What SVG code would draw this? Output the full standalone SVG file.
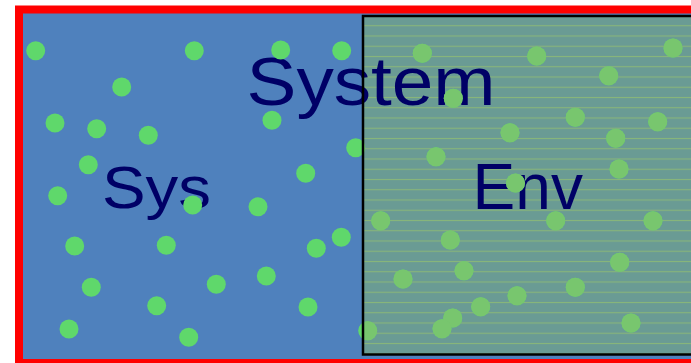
<svg xmlns="http://www.w3.org/2000/svg" xmlns:xlink="http://www.w3.org/1999/xlink" width="691" height="363" viewBox="0 0 691 363">
  <style>
    .label { font-family: "Liberation Sans", Arial, sans-serif; fill: #000066; }
    .frame { fill: #4F81BD; stroke: #FF0000; stroke-width: 8; }
    .env-fill { fill: url(#envLines); }
    .env-border { fill: none; stroke: #000000; stroke-width: 2.5; }
  </style>
  <defs>
    <!-- horizontal ruling of the environment area -->
    <pattern id="envLines" patternUnits="userSpaceOnUse" x="0" y="20.575" width="20" height="10.25">
      <rect x="0" y="0" width="20" height="10.25" fill="#6A9B94"/>
      <rect x="0" y="4.6" width="20" height="1.1" fill="#8DBB76" opacity="0.85"/>
    </pattern>
    <clipPath id="envClip">
      <rect x="364.25" y="17.25" width="400" height="336"/>
    </clipPath>
    <!-- particle positions, coloured where they are used -->
    <g id="particles">
      <circle cx="35.7" cy="50.7" r="9.5"/>
      <circle cx="194.3" cy="50.7" r="9.5"/>
      <circle cx="280.7" cy="50" r="9.5"/>
      <circle cx="341.7" cy="50.7" r="9.5"/>
      <circle cx="121.7" cy="87" r="9.5"/>
      <circle cx="55" cy="123" r="9.5"/>
      <circle cx="96.7" cy="128.7" r="9.5"/>
      <circle cx="148.3" cy="135.3" r="9.5"/>
      <circle cx="272" cy="120.3" r="9.5"/>
      <circle cx="355.7" cy="147.7" r="9.5"/>
      <circle cx="88.3" cy="164.7" r="9.5"/>
      <circle cx="305.7" cy="173.2" r="9.5"/>
      <circle cx="57.7" cy="195.7" r="9.5"/>
      <circle cx="192.7" cy="205" r="9.5"/>
      <circle cx="258" cy="206.7" r="9.5"/>
      <circle cx="74.7" cy="246" r="9.5"/>
      <circle cx="166.3" cy="245.3" r="9.5"/>
      <circle cx="341.3" cy="237.3" r="9.5"/>
      <circle cx="316.3" cy="248.3" r="9.5"/>
      <circle cx="91.3" cy="287.3" r="9.5"/>
      <circle cx="216.3" cy="284.3" r="9.5"/>
      <circle cx="266.3" cy="276" r="9.5"/>
      <circle cx="156.7" cy="305.7" r="9.5"/>
      <circle cx="308" cy="307" r="9.5"/>
      <circle cx="69" cy="329" r="9.5"/>
      <circle cx="188.7" cy="337.3" r="9.5"/>
      <circle cx="367.7" cy="330.7" r="9.5"/>
      <circle cx="422.3" cy="53.3" r="9.5"/>
      <circle cx="536.7" cy="56" r="9.5"/>
      <circle cx="673" cy="48" r="9.5"/>
      <circle cx="608.7" cy="75.7" r="9.5"/>
      <circle cx="453.3" cy="98.3" r="9.5"/>
      <circle cx="575.3" cy="117.3" r="9.5"/>
      <circle cx="657.7" cy="121.7" r="9.5"/>
      <circle cx="510" cy="132.7" r="9.5"/>
      <circle cx="615.7" cy="138.3" r="9.5"/>
      <circle cx="436" cy="156.7" r="9.5"/>
      <circle cx="619" cy="169" r="9.5"/>
      <circle cx="515.5" cy="183" r="9.5"/>
      <circle cx="380.7" cy="220.7" r="9.5"/>
      <circle cx="555.7" cy="220.7" r="9.5"/>
      <circle cx="653" cy="220.7" r="9.5"/>
      <circle cx="450.3" cy="240" r="9.5"/>
      <circle cx="619.7" cy="262.3" r="9.5"/>
      <circle cx="464" cy="270.7" r="9.5"/>
      <circle cx="403" cy="279" r="9.5"/>
      <circle cx="575.3" cy="287.3" r="9.5"/>
      <circle cx="517" cy="295.7" r="9.5"/>
      <circle cx="480.7" cy="306.7" r="9.5"/>
      <circle cx="452.7" cy="318" r="9.5"/>
      <circle cx="442" cy="328.7" r="9.5"/>
      <circle cx="631" cy="323" r="9.5"/>
    </g>
  </defs>

  <!-- whole system: red frame around the blue area -->
  <g id="system">
    <rect class="frame" x="19" y="9.5" width="700" height="353.5"/>
  </g>

  <!-- environment area on the right -->
  <g id="environment">
    <rect class="env-fill" x="363" y="16" width="360" height="338.5"/>
  </g>

  <!-- labels -->
  <g id="labels">
    <text class="label" x="246.6" y="104.5" font-size="68" textLength="249" lengthAdjust="spacingAndGlyphs">System</text>
    <text class="label" x="102" y="207.5" font-size="60" textLength="109" lengthAdjust="spacingAndGlyphs">Sys</text>
    <text class="label" x="472.6" y="209" font-size="64">Env</text>
  </g>

  <!-- particles: bright in the system, muted inside the environment -->
  <g id="dots">
    <use xlink:href="#particles" fill="#5FD86B"/>
    <use xlink:href="#particles" fill="#78C66E" clip-path="url(#envClip)"/>
  </g>

  <!-- environment outline drawn over the particles -->
  <g id="env-outline">
    <rect class="env-border" x="363" y="16" width="360" height="338.5"/>
  </g>
</svg>
